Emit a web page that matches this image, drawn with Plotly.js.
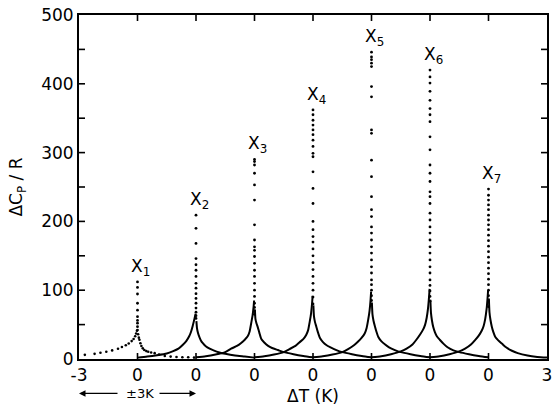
<!DOCTYPE html>
<html><head><meta charset="utf-8">
<script src="https://cdn.plot.ly/plotly-3.0.1.min.js"></script>
<style>html,body{margin:0;padding:0;background:#fff}#chart{width:560px;height:407px}</style>
</head><body><div id="chart"></div>
<script>
// Peak names and centres (axis units; each curve spans ±3 K = ±0.75 axis units)
const peakNames = ["X<sub>1</sub>","X<sub>2</sub>","X<sub>3</sub>","X<sub>4</sub>","X<sub>5</sub>","X<sub>6</sub>","X<sub>7</sub>"];
const peakCentres = [-2.25, -1.5, -0.75, 0, 0.75, 1.5, 2.25];
const kelvinPerUnit = 4;

// tick values / labels
const xTickVals = [-3, -2.25, -1.5, -0.75, 0, 0.75, 1.5, 2.25, 3];
const xTickText = ["-3","0","0","0","0","0","0","0","3"];
const yRange = [0, 500];
const yLabelVals = [0, 100, 200, 300, 400, 500];
const yTickMarks = [50, 100, 150, 200, 250, 300, 350, 400, 450];

// X1: sparse dotted wings (ΔT in K, ΔCp/R)
const x1LeftT  = [-2.7, -2.2, -1.9, -1.6, -1.3, -1.0, -0.8, -0.6, -0.45, -0.3, -0.2, -0.12, -0.07, -0.03];
const x1LeftCp = [6, 7.5, 9, 10.5, 12.5, 15, 17.5, 20, 22.5, 26, 29, 33, 37, 41];
const x1RightT  = [0.03, 0.07, 0.1, 0.15, 0.2, 0.27, 0.35, 0.45, 0.55, 0.7, 0.88, 1.1, 1.4, 1.7, 2.0, 2.3, 2.6, 2.9];
const x1RightCp = [36, 31, 28, 23, 19, 15.5, 13, 11.5, 10.5, 9.5, 8.5, 6.5, 4.5, 3.5, 3, 2.5, 2.5, 2];

// Common ΔT grid (K) for wings of X2..X7
const wingLeftT  = [-3, -2.5, -2, -1.5, -1.2, -0.9, -0.7, -0.5, -0.35, -0.25, -0.17, -0.1, -0.05, -0.02];
const wingRightT = [0.02, 0.05, 0.1, 0.17, 0.25, 0.35, 0.5, 0.7, 0.9, 1.2, 1.5, 2, 2.5, 3];

const leftX2  = [2, 3.5, 5.5, 8, 11, 15, 20, 26, 33, 40, 48, 56, 62, 66];
const rightX2 = [55, 45, 38, 32, 27, 23, 18.5, 15, 12.5, 9.5, 7.5, 5, 3.5, 2];
const leftX3  = [2.5, 4, 6.5, 10, 15, 19, 23, 28, 33, 40, 52, 63, 75, 85];
const rightX3 = [72, 58, 52, 46, 38, 29, 24, 19, 16, 13, 10, 7, 4.5, 2.5];
const leftX4  = [2.5, 4, 6.5, 10, 14.5, 19, 24, 29, 35, 42, 54, 66, 80, 92];
const rightX4 = [78, 62, 54, 47, 39, 31, 25, 20, 17, 13, 10, 7, 4.5, 2.5];
const leftX5  = [2.5, 4, 6.5, 10, 14.5, 20, 25, 31, 37, 45, 57, 70, 85, 98];
const rightX5 = [82, 65, 56, 48, 40, 32, 26, 21, 17, 13, 10, 7, 4.5, 2.5];
const leftX6  = [2.5, 4, 7, 11, 15, 21, 28, 36, 43, 50, 60, 74, 90, 102];
const rightX6 = [86, 67, 56, 46, 39, 33, 28, 22, 17, 12.5, 10, 7, 4.5, 2.5];
const leftX7  = [2.5, 4, 7, 11, 15, 21, 27, 34, 41, 48, 58, 72, 88, 100];
const rightX7 = [88, 68, 57, 47, 39, 32, 27, 22, 17, 12, 8.5, 5, 3, 2];

// Dots in the vertical column at each transition (ΔCp/R, at ΔT = 0)
const colX1 = [112, 104, 94.5, 81, 71, 61.5, 56, 52, 47, 42];
const colX2 = [209, 190, 168, 146, 137, 129, 120, 110, 103, 95, 88, 81, 74, 68, 63, 59];
const colX3 = [290, 287, 282, 270, 253, 231, 195, 173, 163, 158, 149, 139, 129, 120, 110, 100, 91, 81, 75, 70, 65];
const colX4 = [362, 355, 347, 340, 333, 326, 318, 309, 299, 294, 272, 248, 226, 200, 188, 178, 170, 160, 150, 140, 130, 120, 110, 100, 90, 80];
const colX5 = [446, 439, 435, 430, 425, 396, 381, 333, 328, 289, 265, 236, 217, 207, 192, 183, 173, 163, 154, 144, 134, 125, 115, 108, 100, 92, 85];
const colX6 = [420, 410, 401, 389, 376, 364, 355, 345, 323, 304, 282, 270, 258, 243, 236, 226, 212, 202, 192, 183, 173, 163, 154, 144, 134, 125, 115, 107, 99, 91, 84];
const colX7 = [247, 238, 231, 224, 217, 209, 202, 195, 188, 180, 172, 164, 156, 148, 140, 132, 124, 116, 108, 100, 92, 84, 76];

const wingLeft  = [null, leftX2, leftX3, leftX4, leftX5, leftX6, leftX7];
const wingRight = [null, rightX2, rightX3, rightX4, rightX5, rightX6, rightX7];
const columns   = [colX1, colX2, colX3, colX4, colX5, colX6, colX7];

const toAxis = (c, ts) => ts.map(t => c + t / kelvinPerUnit);
const traces = [];
const ink = 'black';

// X1 as sparse dots
traces.push({x: toAxis(peakCentres[0], x1LeftT.concat(x1RightT)), y: x1LeftCp.concat(x1RightCp),
  mode: 'markers', marker: {size: 2.6, color: ink}, hoverinfo: 'skip'});

for (let i = 1; i < 7; i++) {
  traces.push({x: toAxis(peakCentres[i], wingLeftT), y: wingLeft[i], mode: 'lines',
    line: {color: ink, width: 2, shape: 'spline', smoothing: 0.6}, hoverinfo: 'skip'});
  traces.push({x: toAxis(peakCentres[i], wingRightT), y: wingRight[i], mode: 'lines',
    line: {color: ink, width: 2, shape: 'spline', smoothing: 0.6}, hoverinfo: 'skip'});
}
for (let i = 0; i < 7; i++) {
  traces.push({x: columns[i].map(() => peakCentres[i]), y: columns[i], mode: 'markers',
    marker: {size: 2.8, color: ink}, hoverinfo: 'skip'});
}

const fam = 'DejaVu Sans, Arial, sans-serif';
const annotations = peakNames.map((name, i) => ({
  x: peakCentres[i], y: Math.max(...columns[i]), xref: 'x', yref: 'y',
  text: name, showarrow: false, xanchor: 'center', yanchor: 'bottom', xshift: 3, yshift: 1,
  font: {family: fam, size: 17, color: ink}
}));
// ±3K span indicator
annotations.push({x: -2.22, y: -0.1, xref: 'x', yref: 'paper', text: '±3K', showarrow: false,
  font: {family: fam, size: 13, color: ink}, xanchor: 'center', yanchor: 'middle'});
annotations.push({x: -3, y: -0.1, xref: 'x', yref: 'paper', text: ' ', showarrow: true,
  ax: 42, ay: 0, arrowhead: 2, arrowsize: 1, arrowwidth: 1.3, arrowcolor: ink, standoff: 0,
  font: {family: fam, size: 13, color: ink}});
annotations.push({x: -1.5, y: -0.1, xref: 'x', yref: 'paper', text: ' ', showarrow: true,
  ax: -40, ay: 0, arrowhead: 2, arrowsize: 1, arrowwidth: 1.3, arrowcolor: ink, standoff: 0,
  font: {family: fam, size: 13, color: ink}});

// Tick marks drawn as pixel-length shapes anchored at the tick values
const tickLine = {color: ink, width: 1.6};
const shapes = [];
xTickVals.slice(1, -1).forEach(v => {
  shapes.push({type: 'line', xref: 'x', yref: 'y', ysizemode: 'pixel', yanchor: yRange[0],
    x0: v, x1: v, y0: 0, y1: 6, line: tickLine});
  shapes.push({type: 'line', xref: 'x', yref: 'y', ysizemode: 'pixel', yanchor: yRange[1],
    x0: v, x1: v, y0: 0, y1: -6, line: tickLine});
});
yTickMarks.forEach(v => {
  const major = yLabelVals.includes(v);
  shapes.push({type: 'line', xref: 'x', yref: 'y', xsizemode: 'pixel', xanchor: xTickVals[0],
    x0: major ? -4 : 0, x1: 6, y0: v, y1: v, line: tickLine});
  shapes.push({type: 'line', xref: 'x', yref: 'y', xsizemode: 'pixel', xanchor: xTickVals[xTickVals.length - 1],
    x0: 0, x1: -6, y0: v, y1: v, line: tickLine});
});

const layout = {
  width: 560, height: 407,
  margin: {l: 79, r: 13, t: 15, b: 48},
  paper_bgcolor: '#fff', plot_bgcolor: '#fff',
  showlegend: false,
  font: {family: fam, size: 17, color: ink},
  xaxis: {range: [xTickVals[0], xTickVals[xTickVals.length - 1]], tickmode: 'array', tickvals: xTickVals, ticktext: xTickText,
    ticks: '', showline: true, linecolor: ink, linewidth: 2, mirror: true,
    showgrid: false, zeroline: false, tickfont: {family: fam, size: 17, color: ink},
    title: {text: 'ΔT (K)', font: {family: fam, size: 17, color: ink}, standoff: 6}},
  yaxis: {range: yRange, tickmode: 'array', tickvals: yLabelVals, ticks: '',
    showline: true, linecolor: ink, linewidth: 2, mirror: true,
    showgrid: false, zeroline: false, tickfont: {family: fam, size: 17, color: ink},
    title: {text: 'ΔC<sub>P</sub> / R', font: {family: fam, size: 17, color: ink}, standoff: 14}},
  shapes: shapes,
  annotations: annotations
};

Plotly.newPlot('chart', traces, layout, {displayModeBar: false, staticPlot: true});
</script></body></html>
